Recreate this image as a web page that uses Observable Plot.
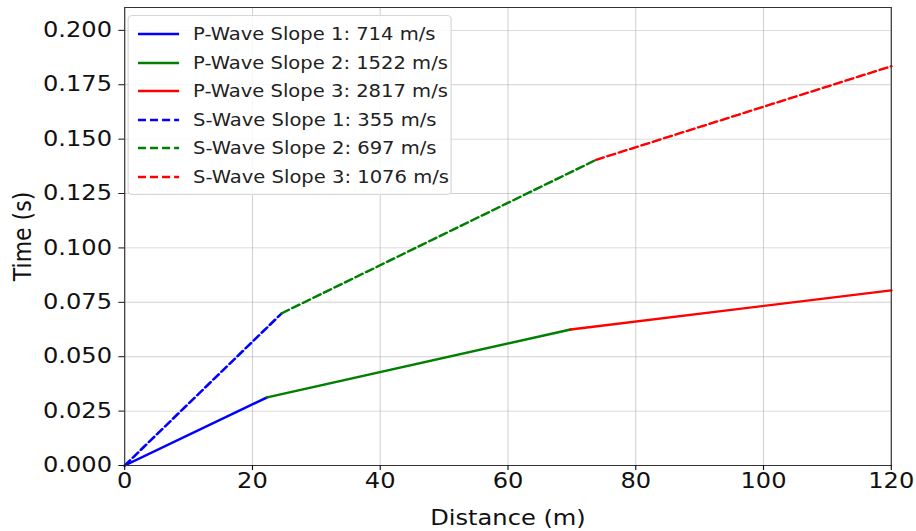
<!DOCTYPE html>
<html>
<head>
<meta charset="utf-8">
<script src="https://cdn.jsdelivr.net/npm/d3@7"></script>
<script src="https://cdn.jsdelivr.net/npm/@observablehq/plot@0.6"></script>
<style>
  html, body { margin: 0; padding: 0; background: #fff; }
  #wrap { position: relative; width: 797px; height: 531px; transform: scaleX(1.1493); transform-origin: 0 0; font-family: "DejaVu Sans", sans-serif; }
  #legend { position: absolute; left: 111px; top: 15px; width: 282px; padding: 4px 0 3px 0; background: rgba(255,255,255,0.85); border: 1px solid #d6d6d6; border-radius: 4px; box-sizing: border-box; }
  .row { height: 28.5px; display: flex; align-items: center; font-size: 17px; color: #222; white-space: nowrap; }
  .row svg { margin-left: 8px; margin-right: 12px; flex: none; }
</style>
</head>
<body>
<div id="wrap"><div id="legend"></div></div>
<script>
// Break points of the travel-time curves (distance in m, time in s)
const pDist = [0, 22.3, 69.8, 120];
const pTime = [0, 0.0313, 0.0625, 0.0805];
const sDist = [0, 24.6, 73.8, 120];
const sTime = [0, 0.0700, 0.1405, 0.1835];

const pLabels = ["P-Wave Slope 1: 714 m/s", "P-Wave Slope 2: 1522 m/s", "P-Wave Slope 3: 2817 m/s"];
const sLabels = ["S-Wave Slope 1: 355 m/s", "S-Wave Slope 2: 697 m/s", "S-Wave Slope 3: 1076 m/s"];
const segColors = ["#0000ff", "#008000", "#ff0000"];

const xTicks = [0, 20, 40, 60, 80, 100, 120];
const yTicks = [0, 0.025, 0.05, 0.075, 0.1, 0.125, 0.15, 0.175, 0.2];

function segments(dist, time, labels, wave) {
  const rows = [];
  for (let i = 0; i < labels.length; i++) {
    for (const j of [i, i + 1]) {
      rows.push({wave, key: labels[i], color: segColors[i], x: dist[j], y: time[j]});
    }
  }
  return rows;
}
const pRows = segments(pDist, pTime, pLabels, "P");
const sRows = segments(sDist, sTime, sLabels, "S");

const chart = Plot.plot({
  width: 797,
  height: 531,
  marginLeft: 108,
  marginRight: 22,
  marginTop: 7,
  marginBottom: 66,
  style: {fontFamily: "DejaVu Sans, sans-serif", fontSize: "20px", color: "#111", background: "transparent", overflow: "visible"},
  x: {domain: [0, 120]},
  y: {domain: [0, 0.2105]},
  color: {type: "identity"},
  marks: [
    Plot.gridX(xTicks, {stroke: "#b0b0b0", strokeOpacity: 0.6, strokeWidth: 0.9}),
    Plot.gridY(yTicks, {stroke: "#b0b0b0", strokeOpacity: 0.6, strokeWidth: 0.9}),
    Plot.line(pRows, {x: "x", y: "y", z: "key", stroke: "color", strokeWidth: 2.4}),
    Plot.line(sRows, {x: "x", y: "y", z: "key", stroke: "color", strokeWidth: 2.4, strokeDasharray: "7,3.5"}),
    Plot.frame({stroke: "#333", strokeWidth: 1}),
    Plot.axisX(xTicks, {tickSize: 5, tickPadding: 3, label: null, fontSize: 21}),
    Plot.axisX([], {tickSize: 0, label: "Distance (m)", labelAnchor: "center", labelArrow: "none", labelOffset: 59, fontSize: 21}),
    Plot.axisY(yTicks, {tickSize: 5, tickPadding: 6, tickFormat: d3.format(".3f"), label: null, fontSize: 21}),
    Plot.axisY([], {tickSize: 0, label: "Time (s)", labelAnchor: "center", labelArrow: "none", labelOffset: 97, fontSize: 22})
  ]
});
document.getElementById("wrap").prepend(chart);

// Legend
const legend = document.getElementById("legend");
const entries = pLabels.map((l, i) => ({label: l, color: segColors[i], dash: null}))
  .concat(sLabels.map((l, i) => ({label: l, color: segColors[i], dash: "7,3.5"})));
for (const e of entries) {
  const row = document.createElement("div");
  row.className = "row";
  const ns = "http://www.w3.org/2000/svg";
  const svg = document.createElementNS(ns, "svg");
  svg.setAttribute("width", 36);
  svg.setAttribute("height", 10);
  const ln = document.createElementNS(ns, "line");
  ln.setAttribute("x1", 0); ln.setAttribute("x2", 36);
  ln.setAttribute("y1", 5); ln.setAttribute("y2", 5);
  ln.setAttribute("stroke", e.color);
  ln.setAttribute("stroke-width", 2.4);
  if (e.dash) ln.setAttribute("stroke-dasharray", e.dash);
  svg.appendChild(ln);
  row.appendChild(svg);
  const span = document.createElement("span");
  span.textContent = e.label;
  row.appendChild(span);
  legend.appendChild(row);
}
</script>
</body>
</html>
